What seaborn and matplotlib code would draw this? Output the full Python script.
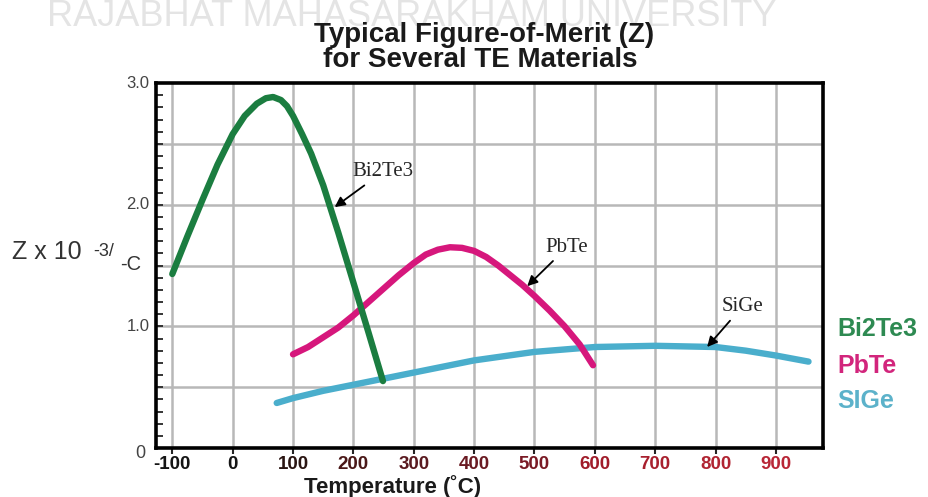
import pandas as pd
import matplotlib.pyplot as plt
import seaborn as sns
from matplotlib.ticker import MultipleLocator

# Values (temperature in C, Z x 10^-3)
bi2te3_t = [-100, -75, -50, -25, 0, 20, 40, 55, 67, 80, 90, 100, 115, 130, 150, 175, 200, 225, 249]
bi2te3_z = [1.43, 1.74, 2.04, 2.33, 2.58, 2.73, 2.83, 2.875, 2.885, 2.86, 2.81, 2.73, 2.58, 2.42,
            2.16, 1.77, 1.36, 0.95, 0.55]

pbte_t = [100, 125, 150, 175, 200, 225, 250, 275, 300, 320, 340, 360, 380, 400,
          420, 440, 460, 480, 500, 525, 550, 575, 597]
pbte_z = [0.77, 0.83, 0.91, 0.99, 1.09, 1.20, 1.31, 1.42, 1.52, 1.59, 1.63, 1.65, 1.645, 1.62,
          1.57, 1.50, 1.42, 1.34, 1.25, 1.13, 1.00, 0.85, 0.68]

sige_t = [73, 100, 150, 200, 250, 300, 400, 500, 600, 700, 800, 850, 900, 954]
sige_z = [0.37, 0.41, 0.47, 0.52, 0.57, 0.62, 0.72, 0.79, 0.83, 0.84, 0.83, 0.80, 0.76, 0.71]

x_ticks = [-100, 0, 100, 200, 300, 400, 500, 600, 700, 800, 900]
x_tick_colors = ["#151515", "#151515", "#2a1512", "#4a1818", "#5a1a20", "#6a1a22",
                 "#7a1a25", "#a01c2a", "#a8202e", "#b02432", "#b82636"]
y_labels = ["3.0", "2.0", "1.0"]
y_label_vals = [3.0, 2.0, 1.0]

colors = {"Bi2Te3": "#1b7d40", "PbTe": "#d6177c", "SiGe": "#4aaecc"}
legend_colors = {"Bi2Te3": "#2e8a52", "PbTe": "#d2257c", "SIGe": "#5cb2ca"}

df = pd.concat([
    pd.DataFrame({"temp": bi2te3_t, "z": bi2te3_z, "material": "Bi2Te3"}),
    pd.DataFrame({"temp": pbte_t, "z": pbte_z, "material": "PbTe"}),
    pd.DataFrame({"temp": sige_t, "z": sige_z, "material": "SiGe"}),
])

sns.set_style("white")
plt.rcParams["font.family"] = ["Liberation Sans", "DejaVu Sans"]

W, H = 929, 497
fig = plt.figure(figsize=(W / 100, H / 100), dpi=100)
ax = fig.add_axes([156 / W, 1 - 448 / H, (823 - 156) / W, (448 - 83) / H])

sns.lineplot(data=df, x="temp", y="z", hue="material", hue_order=["SiGe", "PbTe", "Bi2Te3"],
             palette=colors, estimator=None, sort=False, lw=4.6, legend=False, ax=ax,
             solid_capstyle="round", solid_joinstyle="round")

ax.set_xlim(-127, 978)
ax.set_ylim(0, 3.0)
ax.set_xticks(x_ticks)
ax.set_yticks([0.5, 1.0, 1.5, 2.0, 2.5])
ax.yaxis.set_minor_locator(MultipleLocator(0.1))
ax.grid(True, color="#b8b8b8", lw=1.8)
ax.set_axisbelow(True)
for s in ax.spines.values():
    s.set_linewidth(2.6)
    s.set_color("black")

ax.tick_params(axis="x", direction="out", length=4, width=1.5, pad=2, bottom=True)
ax.tick_params(axis="y", which="both", direction="in", length=5, width=1.3, left=True, labelleft=False)
ax.set_xticklabels([str(t) for t in x_ticks], fontsize=13.5, fontweight="bold")
for lab, c in zip(ax.get_xticklabels(), x_tick_colors):
    lab.set_color(c)
ax.set_xlabel("")
ax.set_ylabel("")

for v, s in zip(y_label_vals, y_labels):
    ax.text(-0.01, v, s, transform=ax.get_yaxis_transform(), ha="right", va="center",
            fontsize=12, color="#444444")
fig.text(140 / W, 1 - 454 / H, "0", ha="center", va="center", fontsize=13, color="#444444")

# watermark and titles
fig.text(412 / W, 1 - 26 / H, "RAJABHAT MAHASARAKHAM UNIVERSITY", ha="center", va="baseline",
         fontsize=26, color="#e4e4e4", zorder=0)
fig.text(484 / W, 1 - 35 / H, "Typical Figure-of-Merit (Z)", ha="center", va="center",
         fontsize=20, fontweight="bold", color="#1a1a1a")
fig.text(480 / W, 1 - 60 / H, "for Several TE Materials", ha="center", va="center",
         fontsize=20, fontweight="bold", color="#1a1a1a")
fig.text(393 / W, 1 - 487 / H, "Temperature (\u02daC)", ha="center", va="center",
         fontsize=16, fontweight="bold", color="#1a1a1a")

# y axis label
fig.text(12 / W, 1 - 252 / H, "Z x 10", ha="left", va="center", fontsize=18, color="#333333")
fig.text(93 / W, 1 - 252 / H, "-3/", ha="left", va="center", fontsize=13, color="#333333")
fig.text(120 / W, 1 - 264 / H, "-C", ha="left", va="center", fontsize=14.5, color="#333333")

# curve annotations
serif = ["Liberation Serif", "DejaVu Serif"]
arrow = dict(arrowstyle="-|>", color="black", lw=1.3, mutation_scale=15, shrinkA=1, shrinkB=0)
ax.annotate("Bi2Te3", xy=(169, 1.98), xytext=(249, 2.27), ha="center", va="center",
            fontsize=15, family=serif, arrowprops=arrow)
ax.annotate("PbTe", xy=(488, 1.33), xytext=(554, 1.65), ha="center", va="center",
            fontsize=15, family=serif, arrowprops=arrow)
ax.annotate("SiGe", xy=(786, 0.83), xytext=(844, 1.16), ha="center", va="center",
            fontsize=15, family=serif, arrowprops=arrow)

# right-hand key
for (name, c), y in zip(legend_colors.items(), [329, 366, 401]):
    fig.text(837 / W, 1 - y / H, name, ha="left", va="center", fontsize=18,
             fontweight="bold", color=c)

fig.savefig("out.png", dpi=100)
